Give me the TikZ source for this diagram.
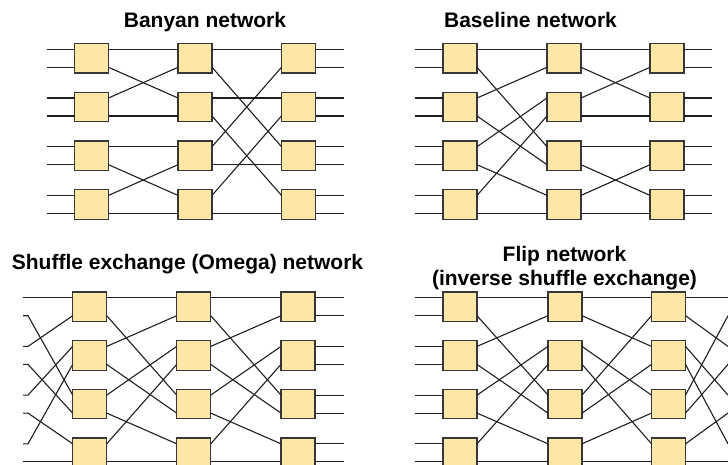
\documentclass[tikz,border=0pt]{standalone}
\usepackage{fontspec}
\setmainfont{Liberation Sans}
\usetikzlibrary{calc}
\definecolor{swfill}{RGB}{253,231,166}
\definecolor{swline}{RGB}{55,55,55}
\tikzset{
        sw/.style={draw=swline, fill=swfill, line width=1.2pt, minimum width=34pt,
            minimum height=29.5pt, inner sep=0pt, outer sep=0pt},
        wire/.style={line width=1.1pt, color=black!88},
        title/.style={font=\bfseries\fontsize{21}{24}\selectfont, anchor=base, align=center}
}

\begin{document}
\begin{tikzpicture}[x=1pt, y=-1pt]
        \useasboundingbox (0, 0) rectangle (728, 464);

        \node[title] (banT) at (205, 27.3) {Banyan network};
        \node[title] (basT) at (530.5, 27.3) {Baseline network};
        \node[title] (omT) at (187.5, 269.3) {Shuffle exchange (Omega) network};
        \node[title] (flT) at (564.5, 285.3) {Flip network\\(inverse shuffle exchange)};

        \coordinate (banL) at (47, 0);
        \coordinate (banR) at (344, 0);
        \coordinate (basL) at (415, 0);
        \coordinate (basR) at (712, 0);
        \coordinate (omL) at (23, 0);
        \coordinate (omS) at (28, 0);
        \coordinate (omR) at (344, 0);
        \coordinate (flL) at (415, 0);
        \coordinate (flR) at (728, 0);

        \foreach \c/\x in {1/91.5, 2/195, 3/298.5} {
            \foreach \r [evaluate=\r as \i using int(2*\r), evaluate=\r as \j using int(2*\r+1)] in {0,...,3} {
                \node[sw] (ban-\c-\r) at (\x, 58.3+48.7*\r) {};
                \coordinate (ban-\c-\i-w) at ([yshift=9pt]ban-\c-\r.west);
                \coordinate (ban-\c-\j-w) at ([yshift=-9pt]ban-\c-\r.west);
                \coordinate (ban-\c-\i-e) at ([yshift=9pt]ban-\c-\r.east);
                \coordinate (ban-\c-\j-e) at ([yshift=-9pt]ban-\c-\r.east);
            }
        }
        \foreach \c/\x in {1/460, 2/564, 3/667} {
            \foreach \r [evaluate=\r as \i using int(2*\r), evaluate=\r as \j using int(2*\r+1)] in {0,...,3} {
                \node[sw] (bas-\c-\r) at (\x, 58.3+48.7*\r) {};
                \coordinate (bas-\c-\i-w) at ([yshift=9pt]bas-\c-\r.west);
                \coordinate (bas-\c-\j-w) at ([yshift=-9pt]bas-\c-\r.west);
                \coordinate (bas-\c-\i-e) at ([yshift=9pt]bas-\c-\r.east);
                \coordinate (bas-\c-\j-e) at ([yshift=-9pt]bas-\c-\r.east);
            }
        }
        \foreach \c/\x in {1/89.7, 2/193.7, 3/298} {
            \foreach \r [evaluate=\r as \i using int(2*\r), evaluate=\r as \j using int(2*\r+1)] in {0,...,3} {
                \node[sw] (om-\c-\r) at (\x, 306.7+48.7*\r) {};
                \coordinate (om-\c-\i-w) at ([yshift=9pt]om-\c-\r.west);
                \coordinate (om-\c-\j-w) at ([yshift=-9pt]om-\c-\r.west);
                \coordinate (om-\c-\i-e) at ([yshift=9pt]om-\c-\r.east);
                \coordinate (om-\c-\j-e) at ([yshift=-9pt]om-\c-\r.east);
            }
        }
        \foreach \c/\x in {1/460, 2/565, 3/668.5} {
            \foreach \r [evaluate=\r as \i using int(2*\r), evaluate=\r as \j using int(2*\r+1)] in {0,...,3} {
                \node[sw] (fl-\c-\r) at (\x, 306.7+48.7*\r) {};
                \coordinate (fl-\c-\i-w) at ([yshift=9pt]fl-\c-\r.west);
                \coordinate (fl-\c-\j-w) at ([yshift=-9pt]fl-\c-\r.west);
                \coordinate (fl-\c-\i-e) at ([yshift=9pt]fl-\c-\r.east);
                \coordinate (fl-\c-\j-e) at ([yshift=-9pt]fl-\c-\r.east);
            }
        }

        \foreach \i in {0,...,7} {
            \draw[wire] (banL |- ban-1-\i-w) -- (ban-1-\i-w);
            \draw[wire] (ban-3-\i-e) -- (banR |- ban-3-\i-e);
            \draw[wire] (basL |- bas-1-\i-w) -- (bas-1-\i-w);
            \draw[wire] (bas-3-\i-e) -- (basR |- bas-3-\i-e);
            \draw[wire] (om-3-\i-e) -- (omR |- om-3-\i-e);
            \draw[wire] (flL |- fl-1-\i-w) -- (fl-1-\i-w);
        }

        \foreach \i/\j in {0/0, 1/2, 2/1, 3/3, 4/4, 5/6, 6/5, 7/7}
            \draw[wire] (ban-1-\i-e) -- (ban-2-\j-w);
        \foreach \i/\j in {0/0, 1/4, 2/2, 3/6, 4/1, 5/5, 6/3, 7/7}
            \draw[wire] (ban-2-\i-e) -- (ban-3-\j-w);

        \foreach \i/\j in {0/0, 1/4, 2/1, 3/5, 4/2, 5/6, 6/3, 7/7}
            \draw[wire] (bas-1-\i-e) -- (bas-2-\j-w);
        \foreach \i/\j in {0/0, 1/2, 2/1, 3/3, 4/4, 5/6, 6/5, 7/7}
            \draw[wire] (bas-2-\i-e) -- (bas-3-\j-w);

        \foreach \i/\j in {0/0, 1/4, 2/1, 3/5, 4/2, 5/6, 6/3, 7/7} {
            \draw[wire] (omL |- om-1-\i-w) -- (omS |- om-1-\i-w) -- (om-1-\j-w);
            \draw[wire] (om-1-\i-e) -- (om-2-\j-w);
            \draw[wire] (om-2-\i-e) -- (om-3-\j-w);
        }

        \foreach \i/\j in {0/0, 1/4, 2/1, 3/5, 4/2, 5/6, 6/3, 7/7}
            \draw[wire] (fl-1-\i-e) -- (fl-2-\j-w);
        \foreach \i/\j in {0/0, 1/2, 2/4, 3/6, 4/1, 5/3, 6/5, 7/7} {
            \draw[wire] (fl-2-\i-e) -- (fl-3-\j-w);
            \draw[wire] (fl-3-\i-e) -- (flR |- fl-3-\j-e);
        }
\end{tikzpicture}
\end{document}
